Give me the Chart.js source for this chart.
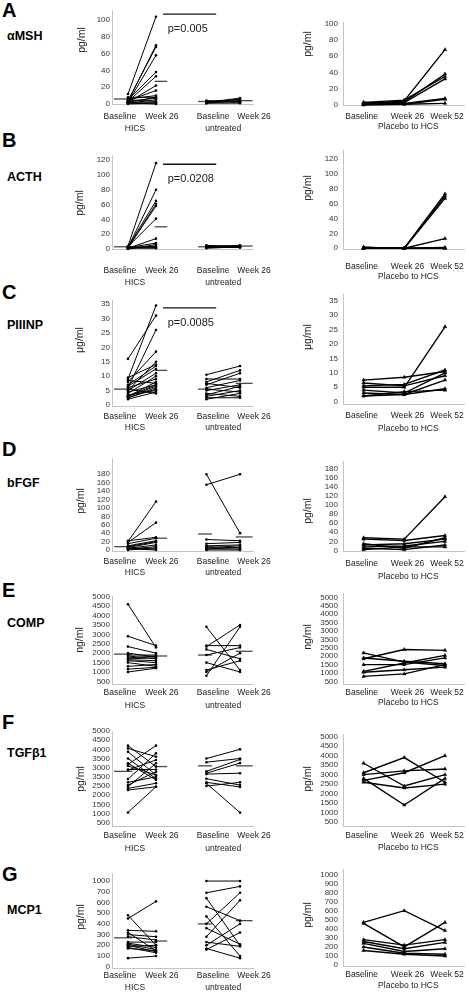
<!DOCTYPE html>
<html><head><meta charset="utf-8">
<script src="https://cdn.jsdelivr.net/npm/chart.js@4.4.1/dist/chart.umd.min.js"></script>
<style>
body{margin:0;background:#fff;width:469px;height:992px;position:relative;overflow:hidden;font-family:"Liberation Sans",Arial,sans-serif;color:#000}
canvas{position:absolute}
.let{position:absolute;left:2px;font-weight:bold;font-size:20px;line-height:20px;margin-top:-10px}
.mk{position:absolute;left:7px;font-weight:bold;font-size:12.5px;line-height:14px;margin-top:-7px}
</style></head><body>
<script>
// categories
const hicsLabels = ['Baseline', 'Week 26', 'Baseline', 'Week 26'];
const hicsGroups = ['HICS', 'untreated'];
const placeboLabels = ['Baseline', 'Week 26', 'Week 52'];
const placeboGroup = 'Placebo to HCS';

// A  aMSH (pg/ml)
const amshHicsBase = [12, 3, 4, 2, 5, 3, 2, 4, 6, 2, 8, 3, 1, 5, 2, 0, 1];
const amshHicsWk26 = [104, 70, 68, 58, 38, 33, 22, 16, 10, 8, 8, 7, 5, 3, 2, 1, 0];
const amshUntrBase = [2, 3, 1, 4, 2, 3, 1, 2];
const amshUntrWk26 = [7, 5, 4, 3, 6, 2, 1, 3];
const amshMeans = [6, 27, 3, 4];
const amshPlcBase = [1, 2, 3, 1, 2, 0, 3];
const amshPlcWk26 = [5, 4, 6, 3, 2, 1, 1];
const amshPlcWk52 = [68, 38, 35, 32, 8, 7, 2];
const amshTicks = [0, 20, 40, 60, 80, 100];

// B  ACTH (pg/ml)
const acthHicsBase = [4, 2, 3, 1, 2, 3, 1, 2, 0, 1, 2, 3, 1];
const acthHicsWk26 = [116, 80, 65, 61, 58, 41, 14, 8, 6, 4, 3, 2, 1];
const acthUntrBase = [2, 3, 4, 1, 2, 3, 5, 2];
const acthUntrWk26 = [3, 2, 4, 3, 2, 5, 3, 4];
const acthMeans = [3, 30, 3, 4];
const acthPlcBase = [1, 0, 1, 0, 1, 0, 1];
const acthPlcWk26 = [0, 0, 0, 0, 0, 0, 0];
const acthPlcWk52 = [73, 70, 67, 13, 1, 0, 0];
const acthTicks = [0, 20, 40, 60, 80, 100, 120];

// C  PIIINP (ug/ml)
const piiinpHicsBase = [16, 9, 6, 8, 5, 9.5, 7, 6.5, 5, 4, 6, 3, 8.5, 4.5, 3, 2.5, 3.5, 2, 5.5, 2.5, 3];
const piiinpHicsWk26 = [31, 34.5, 26, 18.5, 15, 14, 13.5, 12.5, 11, 10, 9, 8, 7.5, 7, 6.5, 6, 5, 4.5, 4, 5.5, 7];
const piiinpUntrBase = [10.5, 9, 8, 7.5, 7, 6, 5.5, 5, 4, 3.5, 3, 2.5, 2];
const piiinpUntrWk26 = [13.5, 9, 12, 6, 11, 8.5, 4.5, 7, 3, 6.5, 5, 2.5, 4];
const piiinpMeans = [5.5, 12, 5.5, 7.5];
const piiinpPlcBase = [7.5, 6.5, 5.5, 5, 4, 3, 2, 2];
const piiinpPlcWk26 = [8.5, 5.5, 6, 5, 3, 2.5, 2.5, 3.5];
const piiinpPlcWk52 = [10.5, 9, 11, 26, 10, 7.5, 4.5, 4];
const piiinpTicks = [0, 5, 10, 15, 20, 25, 30, 35];

// D  bFGF (pg/ml)
const bfgfHicsBase = [20, 18, 22, 15, 10, 8, 6, 4, 2, 0, 5, 3];
const bfgfHicsWk26 = [115, 65, 30, 28, 22, 20, 18, 12, 8, 5, 2, 0];
const bfgfUntrBase = [180, 155, 25, 15, 10, 8, 5, 3, 2, 0];
const bfgfUntrWk26 = [40, 180, 22, 18, 12, 5, 10, 2, 6, 0];
const bfgfMeans = [8, 28, 38, 31];
const bfgfPlcBase = [28, 25, 15, 12, 8, 5, 2];
const bfgfPlcWk26 = [25, 22, 5, 15, 10, 2, 8];
const bfgfPlcWk52 = [118, 33, 28, 25, 20, 12, 8];
const bfgfTicks = [0, 20, 40, 60, 80, 100, 120, 140, 160, 180];

// E  COMP (ng/ml)
const compHicsBase = [4600, 2900, 2350, 2000, 1900, 1850, 1750, 1700, 1650, 1600, 1500, 1300, 1150, 1000];
const compHicsWk26 = [2300, 2400, 2000, 1800, 1900, 1700, 1850, 1750, 1600, 1500, 1300, 1400, 1250, 1200];
const compUntrBase = [2400, 2350, 2200, 1900, 1500, 1100, 1000, 800, 3400];
const compUntrWk26 = [2400, 3500, 1700, 2300, 1000, 1600, 2000, 3400, 1100];
const compMeans = [1950, 1850, 1900, 2100];
const compPlcBase = [1850, 2200, 1900, 1500, 1100, 1050, 800];
const compPlcWk26 = [2400, 1650, 1700, 1500, 1600, 1200, 950];
const compPlcWk52 = [2350, 1450, 1550, 1900, 2050, 1350, 1500];
const compTicks = [500, 1000, 1500, 2000, 2500, 3000, 3500, 4000, 4500, 5000];
const compPlcTicks = [500, 1000, 1500, 2000, 2500, 3000, 3500, 4000, 4500, 5000, 5500];
const compPlcTickLabels = ['500', '1000', '1500', '2000', '2500', '3500', '3000', '3500', '4000', '4500', '5000'];

// F  TGFb1 (pg/ml)
const tgfHicsBase = [4700, 4550, 4370, 3740, 3680, 3370, 2880, 2550, 2460, 2370, 2280, 1060, 3600, 4000, 3400, 2700];
const tgfHicsWk26 = [3560, 4100, 3100, 2830, 4700, 3920, 4280, 3280, 3740, 2650, 2460, 2460, 3100, 2900, 3400, 3000];
const tgfUntrBase = [4000, 3800, 3300, 3200, 3150, 2900, 2700, 2650, 2500];
const tgfUntrWk26 = [4500, 4000, 3950, 3750, 3200, 2550, 2450, 1050, 2700];
const tgfMeans = [3300, 3560, 3600, 3600];
const tgfPlcBase = [3600, 3100, 3000, 2800, 2700, 2600];
const tgfPlcWk26 = [2400, 3900, 3200, 1400, 3100, 2300];
const tgfPlcWk52 = [3000, 2600, 3300, 2800, 4000, 2500];
const tgfTicks = [500, 1000, 1500, 2000, 2500, 3000, 3500, 4000, 4500, 5000, 5500];
const tgfTickLabels = ['500', '1000', '1500', '2000', '2500', '3500', '3000', '3500', '4000', '4500', '5000'];
const tgfPlcTicks = [500, 1000, 1500, 2000, 2500, 3000, 3500, 4000, 4500, 5000];

// G  MCP1 (pg/ml)
const mcpHicsBase = [480, 450, 340, 320, 300, 280, 230, 220, 210, 200, 190, 180, 170, 80];
const mcpHicsWk26 = [200, 610, 330, 150, 280, 250, 230, 180, 160, 140, 200, 130, 150, 100];
const mcpUntrBase = [800, 690, 640, 560, 470, 400, 360, 280, 230, 200, 170, 160];
const mcpUntrWk26 = [800, 750, 200, 430, 100, 690, 210, 620, 190, 400, 80, 320];
const mcpMeans = [270, 240, 400, 430];
const mcpPlcBase = [470, 460, 280, 260, 240, 200, 160];
const mcpPlcWk26 = [600, 200, 220, 180, 150, 130, 120];
const mcpPlcWk52 = [380, 470, 280, 250, 180, 120, 100];
const mcpTicks = [0, 100, 200, 300, 400, 500, 600, 700, 800];
const mcpTickLabels = ['0', '100', '200', '300', '400', '500', '600', '700', '1000'];
const mcpPlcTicks = [0, 100, 200, 300, 400, 500, 600, 700, 800, 900, 1000];

const FONT = '"Liberation Sans", Arial, sans-serif';

function textPlugin(o) {
    return {
        id: 'panelText',
        afterDraw(chart) {
            const ctx = chart.ctx, sx = chart.scales.x, sy = chart.scales.y;
            ctx.save();
            ctx.fillStyle = '#1a1a1a';
            ctx.textAlign = 'center';
            ctx.textBaseline = 'middle';
            ctx.font = '8.5px ' + FONT;
            o.labels.forEach(l => ctx.fillText(l.t, sx.getPixelForValue(l.v), l.y - o.ct));
            if (o.p) {
                const y = sy.getPixelForValue(o.p.y);
                ctx.strokeStyle = '#111';
                ctx.lineWidth = 1.3;
                ctx.beginPath();
                ctx.moveTo(sx.getPixelForValue(1.25), y);
                ctx.lineTo(sx.getPixelForValue(3.15), y);
                ctx.stroke();
                ctx.font = '11px ' + FONT;
                ctx.textAlign = 'left';
                ctx.fillText(o.p.text, sx.getPixelForValue(1.42), y + 15);
            }
            ctx.font = '10.5px ' + FONT;
            ctx.textAlign = 'center';
            ctx.translate(o.titleX - o.cl, o.titleY - o.ct);
            ctx.rotate(-Math.PI / 2);
            ctx.fillText(o.unit, 0, 0);
            ctx.restore();
        }
    };
}

function buildChart(o) {
    const cv = document.createElement('canvas');
    cv.width = o.cr - o.cl;
    cv.height = o.cb - o.ct;
    cv.style.left = o.cl + 'px';
    cv.style.top = o.ct + 'px';
    document.body.appendChild(cv);
    new Chart(cv, {
        type: 'line',
        data: { datasets: o.datasets },
        options: {
            responsive: false,
            animation: false,
            events: [],
            layout: { padding: { top: o.axisTop - o.ct, right: o.cr - o.axisRight, left: 0, bottom: 0 } },
            plugins: { legend: { display: false }, tooltip: { enabled: false } },
            scales: {
                x: {
                    type: 'linear', min: o.xMin, max: o.xMax,
                    grid: { display: false, drawTicks: false },
                    border: { color: '#c4c4c4' },
                    ticks: { display: false },
                    afterFit: s => { s.height = o.cb - o.axisY; }
                },
                y: {
                    type: 'linear', min: o.yMin, max: o.yMax,
                    grid: { display: false, drawTicks: false },
                    border: { color: '#c4c4c4' },
                    ticks: {
                        autoSkip: false, font: { size: 8, family: FONT }, color: '#333', padding: o.tickPad,
                        callback: (v, i) => o.tickLabels[i]
                    },
                    afterBuildTicks: s => { s.ticks = o.ticks.map(v => ({ value: v })); },
                    afterFit: s => { s.width = o.axisX - o.cl; }
                }
            }
        },
        plugins: [textPlugin(o)]
    });
}

function pairLine(xs, ys, right) {
    return {
        data: xs.map((x, i) => ({ x: x, y: ys[i] })),
        borderColor: '#000',
        borderWidth: right ? 1.4 : 1,
        pointRadius: right ? 2 : 1.3,
        pointStyle: right ? 'triangle' : 'circle',
        pointBackgroundColor: '#000',
        pointBorderColor: '#000',
        pointBorderWidth: right ? 0.5 : 0,
        clip: false
    };
}

function meanLine(x0, x1, m) {
    return {
        data: [{ x: x0, y: m }, { x: x1, y: m }],
        borderColor: '#4a4a4a', borderWidth: 1.3, pointRadius: 0, clip: false
    };
}

// left panel: HICS vs untreated
function leftPanel(r) {
    const ds = [];
    r.hb.forEach((b, i) => ds.push(pairLine([0, 1], [b, r.hw[i]], false)));
    r.ub.forEach((b, i) => ds.push(pairLine([2.8, 4], [b, r.uw[i]], false)));
    ds.push(meanLine(-0.5, 0.15, r.means[0]));
    ds.push(meanLine(0.95, 1.4, r.means[1]));
    ds.push(meanLine(2.5, 3.0, r.means[2]));
    ds.push(meanLine(3.85, 4.45, r.means[3]));
    const labelX = [-0.29, 1.21, 3.04, 4.5];
    const labels = hicsLabels.map((t, i) => ({ t: t, v: labelX[i], y: r.labelY }))
        .concat([{ t: hicsGroups[0], v: 0.25, y: r.groupY }, { t: hicsGroups[1], v: 3.4, y: r.groupY }]);
    buildChart({
        cl: 66, cr: 292, ct: r.axisTop - 8, cb: r.groupY + 8,
        axisX: 112, axisRight: 253, axisTop: r.axisTop, axisY: r.axisY,
        xMin: -0.571, xMax: 4.464, yMin: r.yMin, yMax: r.yMax,
        ticks: r.ticks, tickLabels: r.tickLabels || r.ticks.map(String), tickPad: 2,
        datasets: ds, labels: labels, p: r.p,
        unit: r.unit, titleX: r.titleX, titleY: r.titleY
    });
}

// right panel: placebo to HCS
function rightPanel(r) {
    const ds = r.b.map((b, i) => pairLine([0, 1, 2], [b, r.w26[i], r.w52[i]], true));
    const labelX = [-0.05, 1.08, 2.05];
    const labels = placeboLabels.map((t, i) => ({ t: t, v: labelX[i], y: r.labelY }))
        .concat([{ t: placeboGroup, v: 1.1, y: r.groupY }]);
    buildChart({
        cl: 296, cr: 469, ct: r.axisTop - 8, cb: r.groupY + 8,
        axisX: 343, axisRight: 467, axisTop: r.axisTop, axisY: r.axisY,
        xMin: -0.506, xMax: 2.48, yMin: r.yMin, yMax: r.yMax,
        ticks: r.ticks, tickLabels: r.tickLabels || r.ticks.map(String), tickPad: 5,
        datasets: ds, labels: labels,
        unit: r.unit, titleX: 308, titleY: r.titleY
    });
}

function rowText(letter, ly, name, ny) {
    const a = document.createElement('div');
    a.className = 'let'; a.style.top = ly + 'px'; a.textContent = letter;
    const b = document.createElement('div');
    b.className = 'mk'; b.style.top = ny + 'px'; b.textContent = name;
    document.body.appendChild(a); document.body.appendChild(b);
}

rowText('A', 10, 'αMSH', 36);
leftPanel({ hb: amshHicsBase, hw: amshHicsWk26, ub: amshUntrBase, uw: amshUntrWk26, means: amshMeans,
    axisTop: 10, axisY: 104, yMin: 0, yMax: 112, ticks: amshTicks, labelY: 117, groupY: 129,
    unit: 'pg/ml', titleX: 82, titleY: 40, p: { text: 'p=0.005', y: 107 } });
rightPanel({ b: amshPlcBase, w26: amshPlcWk26, w52: amshPlcWk52,
    axisTop: 21, axisY: 105, yMin: 0, yMax: 101, ticks: amshTicks, labelY: 117, groupY: 127,
    unit: 'pg/ml', titleY: 44 });

rowText('B', 140, 'ACTH', 177);
leftPanel({ hb: acthHicsBase, hw: acthHicsWk26, ub: acthUntrBase, uw: acthUntrWk26, means: acthMeans,
    axisTop: 155, axisY: 249, yMin: 0, yMax: 127, ticks: acthTicks, labelY: 271, groupY: 283,
    unit: 'pg/ml', titleX: 80, titleY: 203, p: { text: 'p=0.0208', y: 114.5 } });
rightPanel({ b: acthPlcBase, w26: acthPlcWk26, w52: acthPlcWk52,
    axisTop: 149, axisY: 249, yMin: -1, yMax: 131, ticks: acthTicks, labelY: 267, groupY: 277,
    unit: 'pg/ml', titleY: 188 });

rowText('C', 292, 'PIIINP', 325);
leftPanel({ hb: piiinpHicsBase, hw: piiinpHicsWk26, ub: piiinpUntrBase, uw: piiinpUntrWk26, means: piiinpMeans,
    axisTop: 300, axisY: 406, yMin: -0.35, yMax: 36.4, ticks: piiinpTicks, labelY: 417, groupY: 428,
    unit: 'μg/ml', titleX: 80, titleY: 340, p: { text: 'p=0.0085', y: 33.7 } });
rightPanel({ b: piiinpPlcBase, w26: piiinpPlcWk26, w52: piiinpPlcWk52,
    axisTop: 293, axisY: 404, yMin: -0.8, yMax: 37.1, ticks: piiinpTicks, labelY: 416, groupY: 429,
    unit: 'μg/ml', titleY: 337 });

rowText('D', 449, 'bFGF', 483);
leftPanel({ hb: bfgfHicsBase, hw: bfgfHicsWk26, ub: bfgfUntrBase, uw: bfgfUntrWk26, means: bfgfMeans,
    axisTop: 458, axisY: 551, yMin: -2.4, yMax: 218.7, ticks: bfgfTicks, labelY: 562, groupY: 573,
    unit: 'pg/ml', titleX: 81, titleY: 501 });
rightPanel({ b: bfgfPlcBase, w26: bfgfPlcWk26, w52: bfgfPlcWk52,
    axisTop: 460, axisY: 551, yMin: -1, yMax: 194.5, ticks: bfgfTicks, labelY: 564, groupY: 577,
    unit: 'pg/ml', titleY: 511 });

rowText('E', 590, 'COMP', 623);
leftPanel({ hb: compHicsBase, hw: compHicsWk26, ub: compUntrBase, uw: compUntrWk26, means: compMeans,
    axisTop: 596, axisY: 684, yMin: 362, yMax: 5037, ticks: compTicks, labelY: 693, groupY: 706,
    unit: 'ng/ml', titleX: 80, titleY: 640 });
rightPanel({ b: compPlcBase, w26: compPlcWk26, w52: compPlcWk52,
    axisTop: 592, axisY: 684, yMin: 349, yMax: 5715, ticks: compPlcTicks, tickLabels: compPlcTickLabels, labelY: 693, groupY: 703,
    unit: 'ng/ml', titleY: 637 });

rowText('F', 722, 'TGFβ1', 753);
leftPanel({ hb: tgfHicsBase, hw: tgfHicsWk26, ub: tgfUntrBase, uw: tgfUntrWk26, means: tgfMeans,
    axisTop: 731, axisY: 826, yMin: 320, yMax: 5500, ticks: tgfTicks, tickLabels: tgfTickLabels, labelY: 836, groupY: 849,
    unit: 'pg/ml', titleX: 81, titleY: 779 });
rightPanel({ b: tgfPlcBase, w26: tgfPlcWk26, w52: tgfPlcWk52,
    axisTop: 733, axisY: 826, yMin: 293, yMax: 5100, ticks: tgfPlcTicks, labelY: 836, groupY: 848,
    unit: 'pg/ml', titleY: 779 });

rowText('G', 874, 'MCP1', 910);
leftPanel({ hb: mcpHicsBase, hw: mcpHicsWk26, ub: mcpUntrBase, uw: mcpUntrWk26, means: mcpMeans,
    axisTop: 873, axisY: 968, yMin: -12, yMax: 875, ticks: mcpTicks, tickLabels: mcpTickLabels, labelY: 976, groupY: 988,
    unit: 'pg/ml', titleX: 81, titleY: 917 });
rightPanel({ b: mcpPlcBase, w26: mcpPlcWk26, w52: mcpPlcWk52,
    axisTop: 868, axisY: 966, yMin: -10, yMax: 1050, ticks: mcpPlcTicks, labelY: 975, groupY: 986,
    unit: 'pg/ml', titleY: 915 });
</script>
</body></html>
